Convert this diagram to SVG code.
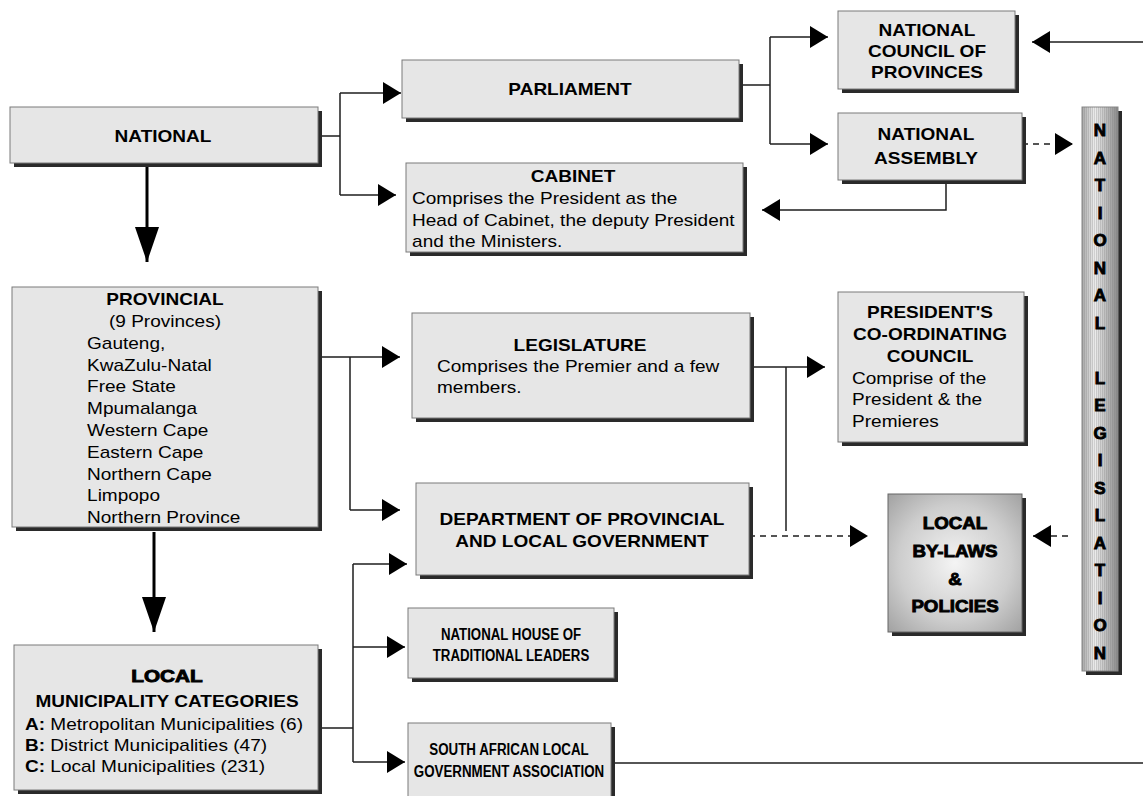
<svg xmlns="http://www.w3.org/2000/svg" width="1143" height="796" viewBox="0 0 1143 796">
<style>
  .box{fill:#e6e6e6;stroke:#7a7a7a;stroke-width:1}
  .sh{fill:#2a2a2a}
  .t{font-family:"Liberation Sans",Arial,sans-serif;font-size:17px;fill:#000}
  .b{font-weight:bold}
  .blk{font-weight:bold;stroke:#000;stroke-width:0.9}
  .m{text-anchor:middle}
  .ln{fill:none;stroke:#1e1e1e;stroke-width:1.5}
  .dash{stroke-dasharray:6 5}
  .thick{fill:none;stroke:#000;stroke-width:3}
</style>
<defs>
  <marker id="ah" markerUnits="userSpaceOnUse" markerWidth="18" markerHeight="22" refX="18" refY="11" orient="auto">
    <path d="M0,0 L18,11 L0,22 Z" fill="#000"/>
  </marker>
  <marker id="big" markerUnits="userSpaceOnUse" markerWidth="35" markerHeight="24" refX="35" refY="12" orient="auto">
    <path d="M0,0 L35,12 L0,24 Z" fill="#000"/>
  </marker>
  <radialGradient id="rg" cx="0.5" cy="0.5" r="0.7">
    <stop offset="0" stop-color="#f4f4f4"/>
    <stop offset="0.6" stop-color="#cdcdcd"/>
    <stop offset="1" stop-color="#a2a2a2"/>
  </radialGradient>
  <linearGradient id="lg" x1="0" y1="0" x2="1" y2="0">
    <stop offset="0" stop-color="#a8a8a8"/>
    <stop offset="0.35" stop-color="#eeeeee"/>
    <stop offset="1" stop-color="#8a8a8a"/>
  </linearGradient>
  <pattern id="stripes" width="2" height="4" patternUnits="userSpaceOnUse">
    <rect x="0" y="0" width="1" height="4" fill="#777" fill-opacity="0.25"/>
  </pattern>
</defs>

<g id="connectors">
  <path class="ln" d="M318,136 H340 M340,93 V195"/>
  <path class="ln" d="M340,93 H401" marker-end="url(#ah)"/>
  <path class="ln" d="M340,195 H396" marker-end="url(#ah)"/>
  <path class="ln" d="M739,85 H770 M770,37 V144"/>
  <path class="ln" d="M770,37 H828" marker-end="url(#ah)"/>
  <path class="ln" d="M770,144 H828" marker-end="url(#ah)"/>
  <path class="ln" d="M1143,42 H1032" stroke="#555" marker-end="url(#ah)"/>
  <path class="ln dash" d="M1022,144 H1073" marker-end="url(#ah)"/>
  <path class="ln" d="M946,180 V210 H762" marker-end="url(#ah)"/>
  <path class="thick" d="M147,167 V262" marker-end="url(#big)"/>
  <path class="ln" d="M318,357 H350 M350,357 V510"/>
  <path class="ln" d="M350,357 H400" marker-end="url(#ah)"/>
  <path class="ln" d="M350,510 H400" marker-end="url(#ah)"/>
  <path class="ln" d="M750,367 H825" marker-end="url(#ah)"/>
  <path class="ln" d="M786,367 V531"/>
  <path class="ln dash" d="M749,536 H868" marker-end="url(#ah)"/>
  <path class="ln dash" d="M1068,536 H1033" marker-end="url(#ah)"/>
  <path class="thick" d="M154,532 V632" marker-end="url(#big)"/>
  <path class="ln" d="M318,728 H353 M353,564 V762"/>
  <path class="ln" d="M353,564 H407" marker-end="url(#ah)"/>
  <path class="ln" d="M353,647 H405" marker-end="url(#ah)"/>
  <path class="ln" d="M353,762 H405" marker-end="url(#ah)"/>
  <path class="ln" d="M611,763 H1143"/>
</g>

<g id="national">
  <rect class="sh" x="14" y="111" width="308" height="56"/>
  <rect class="box" x="10" y="107" width="308" height="56"/>
  <g transform="translate(163,0) scale(1.12,1)"><text class="t b m" x="0" y="142">NATIONAL</text></g>
</g>

<g id="parliament">
  <rect class="sh" x="406" y="64" width="337" height="58"/>
  <rect class="box" x="402" y="60" width="337" height="58"/>
  <g transform="translate(570,0) scale(1.12,1)"><text class="t b m" x="0" y="95">PARLIAMENT</text></g>
</g>

<g id="cabinet">
  <rect class="sh" x="410" y="167" width="337" height="89"/>
  <rect class="box" x="406" y="163" width="337" height="89"/>
  <g transform="translate(573,0) scale(1.12,1)">
    <text class="t b m" x="0" y="182">CABINET</text>
    <text class="t" x="-143.7" y="204">Comprises the President as the</text>
    <text class="t" x="-143.7" y="226">Head of Cabinet, the deputy President</text>
    <text class="t" x="-143.7" y="247">and the Ministers.</text>
  </g>
</g>

<g id="ncop">
  <rect class="sh" x="842" y="15" width="177" height="78"/>
  <rect class="box" x="838" y="11" width="177" height="78"/>
  <g transform="translate(927,0) scale(1.12,1)">
    <text class="t b m" x="0" y="36">NATIONAL</text>
    <text class="t b m" x="0" y="57">COUNCIL OF</text>
    <text class="t b m" x="0" y="78">PROVINCES</text>
  </g>
</g>

<g id="national-assembly">
  <rect class="sh" x="842" y="117" width="184" height="67"/>
  <rect class="box" x="838" y="113" width="184" height="67"/>
  <g transform="translate(926,0) scale(1.12,1)">
    <text class="t b m" x="0" y="140">NATIONAL</text>
    <text class="t b m" x="0" y="164">ASSEMBLY</text>
  </g>
</g>

<g id="national-legislation">
  <rect class="sh" x="1086" y="111" width="36" height="564"/>
  <rect x="1082" y="107" width="36" height="564" fill="url(#lg)" stroke="#888" stroke-width="1"/>
  <rect x="1082" y="107" width="36" height="564" fill="url(#stripes)"/>
  <g class="t blk m" font-size="17px">
    <text x="1100" y="136">N</text>
    <text x="1100" y="163.5">A</text>
    <text x="1100" y="191">T</text>
    <text x="1100" y="218.5">I</text>
    <text x="1100" y="246">O</text>
    <text x="1100" y="273.5">N</text>
    <text x="1100" y="301">A</text>
    <text x="1100" y="328.5">L</text>
    <text x="1100" y="383.5">L</text>
    <text x="1100" y="411">E</text>
    <text x="1100" y="438.5">G</text>
    <text x="1100" y="466">I</text>
    <text x="1100" y="493.5">S</text>
    <text x="1100" y="521">L</text>
    <text x="1100" y="548.5">A</text>
    <text x="1100" y="576">T</text>
    <text x="1100" y="603.5">I</text>
    <text x="1100" y="631">O</text>
    <text x="1100" y="658.5">N</text>
  </g>
</g>

<g id="provincial">
  <rect class="sh" x="16" y="291" width="306" height="240"/>
  <rect class="box" x="12" y="287" width="306" height="240"/>
  <g transform="translate(165,0) scale(1.12,1)">
    <text class="t b m" x="0" y="305">PROVINCIAL</text>
    <text class="t m" x="0" y="327">(9 Provinces)</text>
    <text class="t" x="-69.6" y="349">Gauteng,</text>
    <text class="t" x="-69.6" y="371">KwaZulu-Natal</text>
    <text class="t" x="-69.6" y="392.5">Free State</text>
    <text class="t" x="-69.6" y="414">Mpumalanga</text>
    <text class="t" x="-69.6" y="436">Western Cape</text>
    <text class="t" x="-69.6" y="458">Eastern Cape</text>
    <text class="t" x="-69.6" y="480">Northern Cape</text>
    <text class="t" x="-69.6" y="501.5">Limpopo</text>
    <text class="t" x="-69.6" y="523">Northern Province</text>
  </g>
</g>

<g id="legislature">
  <rect class="sh" x="416" y="317" width="338" height="105"/>
  <rect class="box" x="412" y="313" width="338" height="105"/>
  <g transform="translate(580,0) scale(1.12,1)">
    <text class="t b m" x="0" y="351">LEGISLATURE</text>
    <text class="t" x="-127.7" y="372">Comprises the Premier and a few</text>
    <text class="t" x="-127.7" y="393">members.</text>
  </g>
</g>

<g id="department">
  <rect class="sh" x="420" y="487" width="333" height="92"/>
  <rect class="box" x="416" y="483" width="333" height="92"/>
  <g transform="translate(582,0) scale(1.12,1)">
    <text class="t b m" x="0" y="525">DEPARTMENT OF PROVINCIAL</text>
    <text class="t b m" x="0" y="547">AND LOCAL GOVERNMENT</text>
  </g>
</g>

<g id="presidents-council">
  <rect class="sh" x="842" y="296" width="186" height="150"/>
  <rect class="box" x="838" y="292" width="186" height="150"/>
  <g transform="translate(930,0) scale(1.12,1)">
    <text class="t b m" x="0" y="318">PRESIDENT'S</text>
    <text class="t b m" x="0" y="340">CO-ORDINATING</text>
    <text class="t b m" x="0" y="362">COUNCIL</text>
    <text class="t" x="-69.6" y="384">Comprise of the</text>
    <text class="t" x="-69.6" y="405">President &amp; the</text>
    <text class="t" x="-69.6" y="427">Premieres</text>
  </g>
</g>

<g id="local-bylaws">
  <rect class="sh" x="892" y="498" width="134" height="138"/>
  <rect x="888" y="494" width="134" height="138" fill="url(#rg)" stroke="#666" stroke-width="1"/>
  <g transform="translate(955,0) scale(1.1,1)" class="t blk m" font-size="18px">
    <text x="0" y="529">LOCAL</text>
    <text x="0" y="557">BY-LAWS</text>
    <text x="0" y="585">&amp;</text>
    <text x="0" y="612">POLICIES</text>
  </g>
</g>

<g id="local-municipality">
  <rect class="sh" x="18" y="649" width="304" height="145"/>
  <rect class="box" x="14" y="645" width="304" height="145"/>
  <g transform="translate(167,0) scale(1.22,1)"><text class="t blk m" x="0" y="682">LOCAL</text></g>
  <g transform="translate(167,0) scale(1.12,1)">
    <text class="t b m" x="0" y="707">MUNICIPALITY CATEGORIES</text>
    <text class="t" x="-126.8" y="730"><tspan class="b">A:</tspan> Metropolitan Municipalities (6)</text>
    <text class="t" x="-126.8" y="751"><tspan class="b">B:</tspan> District Municipalities (47)</text>
    <text class="t" x="-126.8" y="772"><tspan class="b">C:</tspan> Local Municipalities (231)</text>
  </g>
</g>

<g id="traditional-leaders">
  <rect class="sh" x="412" y="612" width="206" height="70"/>
  <rect class="box" x="408" y="608" width="206" height="70"/>
  <g transform="translate(511,0) scale(0.78,1)">
    <text class="t b m" x="0" y="640" font-size="18px">NATIONAL HOUSE OF</text>
    <text class="t b m" x="0" y="661" font-size="18px">TRADITIONAL LEADERS</text>
  </g>
</g>

<g id="salga">
  <rect class="sh" x="412" y="727" width="203" height="80"/>
  <rect class="box" x="408" y="723" width="203" height="80"/>
  <g transform="translate(509,0) scale(0.785,1)">
    <text class="t b m" x="0" y="755" font-size="18px">SOUTH AFRICAN LOCAL</text>
    <text class="t b m" x="0" y="777" font-size="18px">GOVERNMENT ASSOCIATION</text>
  </g>
</g>
</svg>
